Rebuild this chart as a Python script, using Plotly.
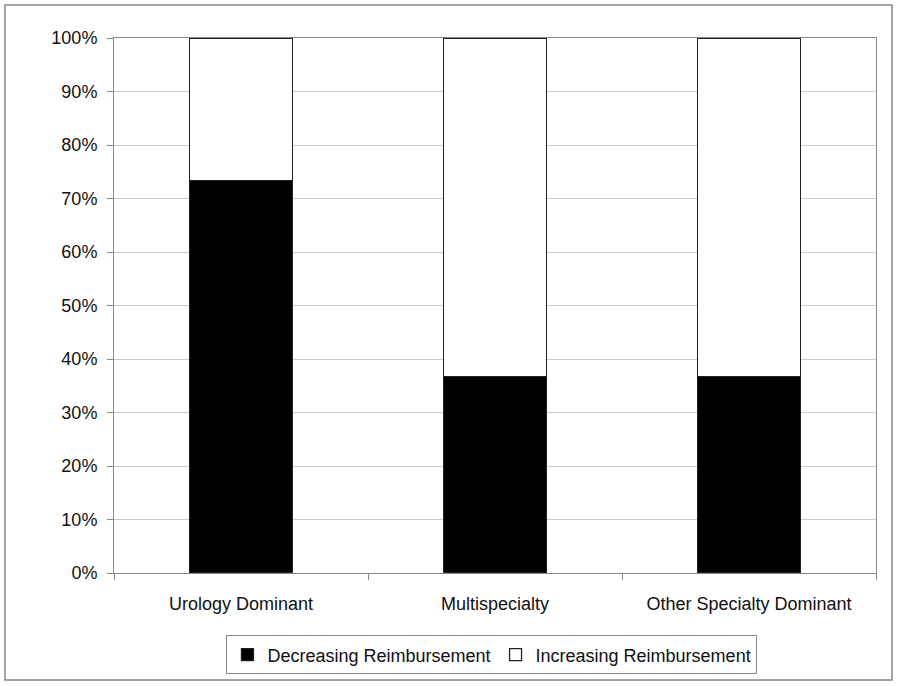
import plotly.graph_objects as go

categories = ["Urology Dominant", "Multispecialty", "Other Specialty Dominant"]
decreasing = [73.4, 36.7, 36.7]
increasing = [26.6, 63.3, 63.3]
y_ticks = [0, 10, 20, 30, 40, 50, 60, 70, 80, 90, 100]
y_tick_labels = [f"{v}%" for v in y_ticks]

fig = go.Figure()
fig.add_trace(go.Bar(x=categories, y=decreasing, name="Decreasing Reimbursement",
                     marker=dict(color="black", line=dict(color="#222", width=1.3)), width=0.405))
fig.add_trace(go.Bar(x=categories, y=increasing, name="Increasing Reimbursement",
                     marker=dict(color="white", line=dict(color="#222", width=1.3)), width=0.405))

fig.update_layout(
    barmode="stack",
    width=897, height=686,
    margin=dict(l=114, r=21, t=38, b=113, autoexpand=False),
    plot_bgcolor="white", paper_bgcolor="white",
    font=dict(family="Liberation Sans, Arial", size=18, color="#111"),
    showlegend=True,
    legend=dict(orientation="h", x=0.496, xanchor="center", y=-0.1165, yanchor="top",
                bordercolor="#888", borderwidth=1, font=dict(size=18),
                traceorder="normal", itemwidth=30, tracegroupgap=0),
    bargap=0.595,
)
fig.update_xaxes(showline=True, linecolor="#888", linewidth=1, mirror=True,
                 ticks="outside", ticklen=6, tickcolor="#888", tickson="boundaries",
                 showgrid=False, automargin=False, ticklabelstandoff=14)
fig.update_yaxes(range=[0, 100], tickmode="array", tickvals=y_ticks, ticktext=y_tick_labels,
                 showline=True, linecolor="#888", linewidth=1, mirror=True,
                 ticks="outside", ticklen=6, tickcolor="#888", automargin=False,
                 ticklabelstandoff=6,
                 showgrid=True, gridcolor="#cccccc", gridwidth=1, zeroline=False)

fig.add_shape(type="rect", xref="paper", yref="paper",
              x0=(5 - 114) / 762, x1=(892 - 114) / 762,
              y0=(573 - 680) / 535, y1=(573 - 5) / 535,
              line=dict(color="#888", width=1.5), fillcolor="rgba(0,0,0,0)", layer="below")

fig.write_html("out.html", config={"displayModeBar": False},
               post_script="document.body.style.margin='0';document.body.style.overflow='hidden';")
